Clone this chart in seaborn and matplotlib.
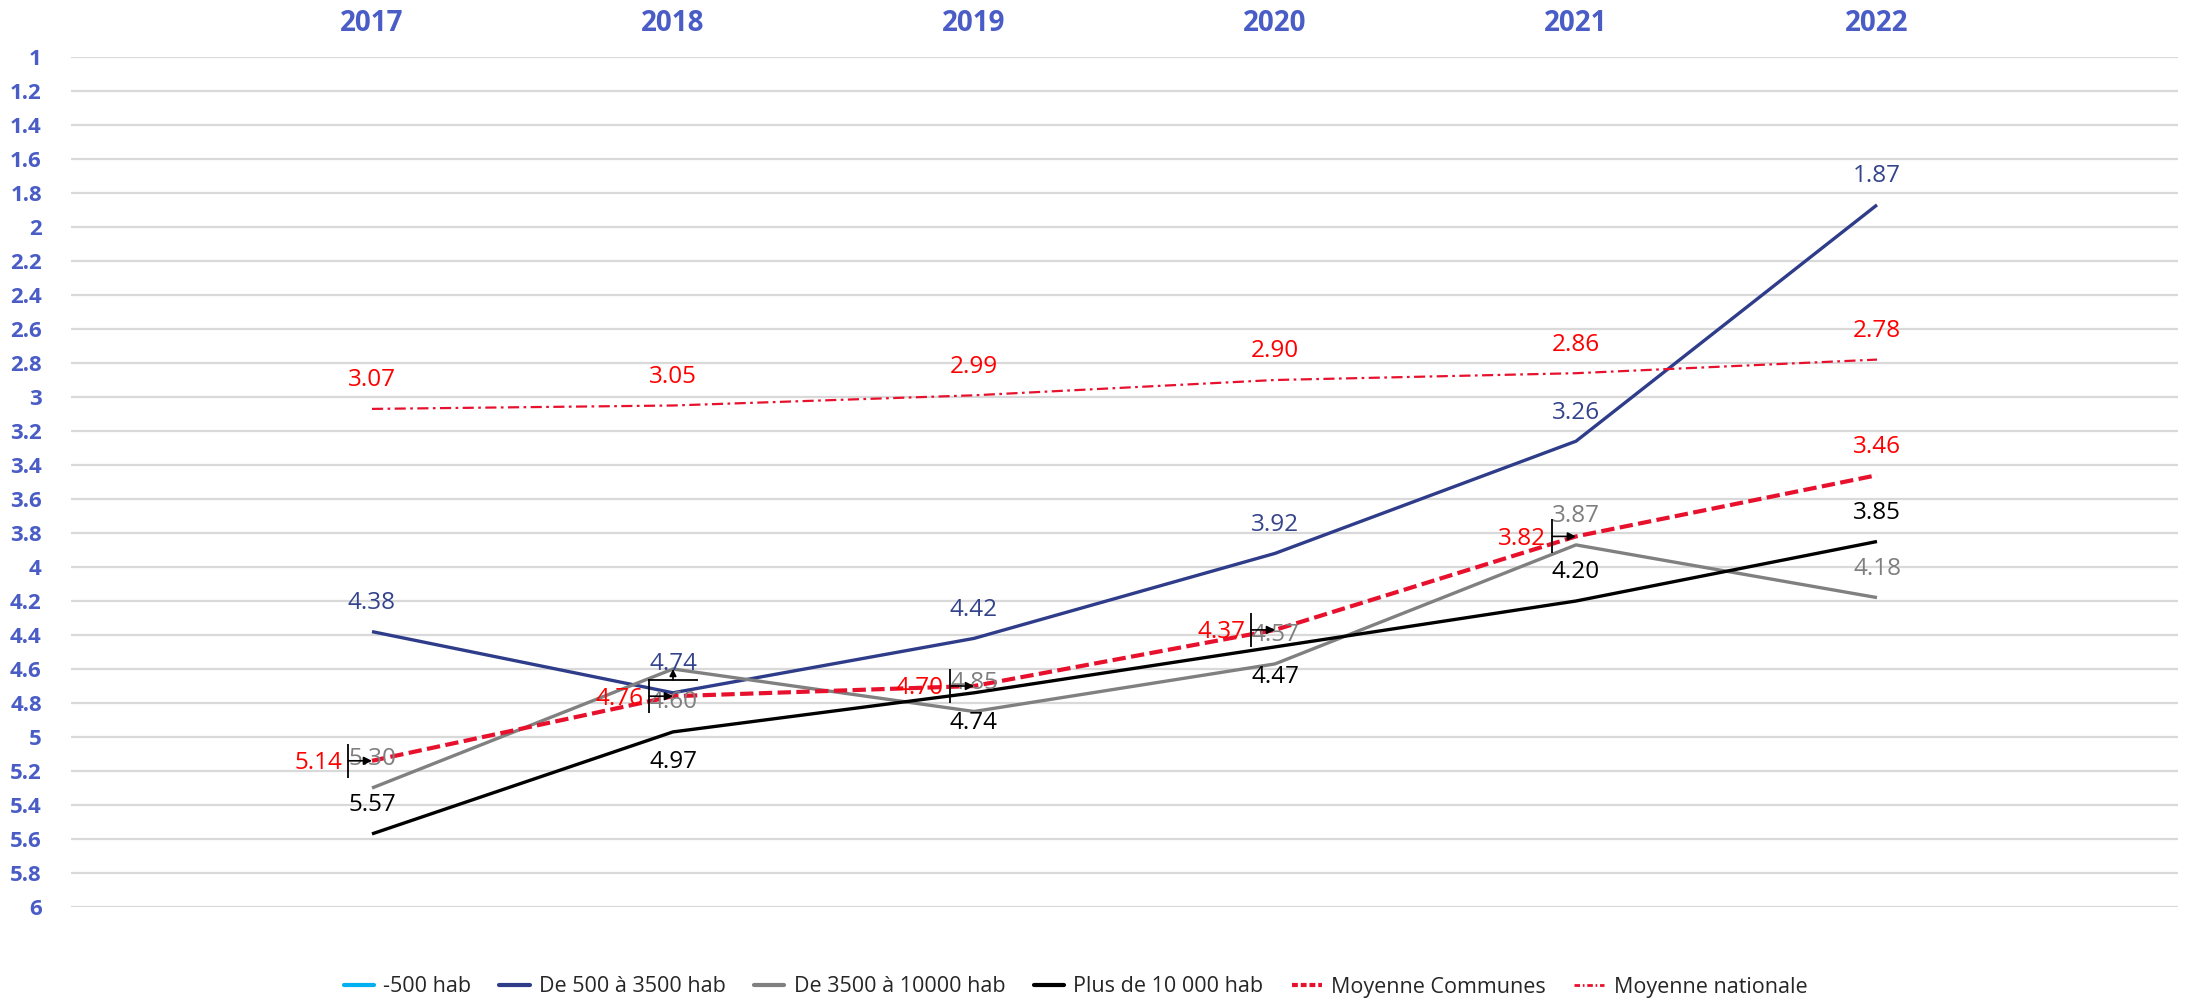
import numpy as np
import pandas as pd
import matplotlib
matplotlib.use("Agg")
import matplotlib.pyplot as plt
import matplotlib.transforms as mtransforms
from matplotlib.lines import Line2D
import seaborn as sns

# ---------------- data ----------------
years = [2017, 2018, 2019, 2020, 2021, 2022]
year_labels = ["2017", "2018", "2019", "2020", "2021", "2022"]
moins_500 = [np.nan, np.nan, np.nan, np.nan, np.nan, np.nan]
de_500_3500 = [4.38, 4.74, 4.42, 3.92, 3.26, 1.87]
de_3500_10000 = [5.30, 4.60, 4.85, 4.57, 3.87, 4.18]
plus_10000 = [5.57, 4.97, 4.74, 4.47, 4.20, 3.85]
moy_communes = [5.14, 4.76, 4.70, 4.37, 3.82, 3.46]
moy_nationale = [3.07, 3.05, 2.99, 2.90, 2.86, 2.78]
series_names = ["-500 hab", "De 500 à 3500 hab", "De 3500 à 10000 hab",
                "Plus de 10 000 hab", "Moyenne Communes", "Moyenne nationale"]
y_tick_values = [1, 1.2, 1.4, 1.6, 1.8, 2, 2.2, 2.4, 2.6, 2.8, 3, 3.2, 3.4, 3.6,
                 3.8, 4, 4.2, 4.4, 4.6, 4.8, 5, 5.2, 5.4, 5.6, 5.8, 6]
y_tick_labels = ["1", "1.2", "1.4", "1.6", "1.8", "2", "2.2", "2.4", "2.6", "2.8",
                 "3", "3.2", "3.4", "3.6", "3.8", "4", "4.2", "4.4", "4.6", "4.8",
                 "5", "5.2", "5.4", "5.6", "5.8", "6"]

values = [moins_500, de_500_3500, de_3500_10000, plus_10000, moy_communes, moy_nationale]

# ---------------- styles ----------------
line_colors = ["#00B0F0", "#2E3C8A", "#808080", "#000000", "#E8112D", "#E8112D"]
label_colors = ["#00B0F0", "#34448C", "#7F7F7F", "#000000", "#FF0000", "#FF0000"]
line_widths = [2.4, 2.4, 2.4, 2.4, 3.0, 1.6]
dash_styles = [None, None, None, None, (3.2, 1.3), (5, 2, 1.2, 2)]
placements = [
    [None] * 6,
    ["above"] * 6,
    ["above", "below_lead", "above", "above", "above", "above"],
    ["above", "below", "below", "below", "above", "above"],
    ["left", "left", "left", "left", "left", "above"],
    ["above"] * 6,
]
tick_color = "#4A5CC5"

sns.set_theme(style="white")
plt.rcParams["font.family"] = ["Open Sans", "DejaVu Sans"]

W, H, DPI = 2195, 1001, 100
fig = plt.figure(figsize=(W / DPI, H / DPI), dpi=DPI)
ax = fig.add_axes([71 / W, 1 - 907 / H, 2107 / W, 850 / H])

df = pd.DataFrame({"annee": years})
for name, vals in zip(series_names, values):
    df[name] = vals

for i, name in enumerate(series_names):
    if df[name].notna().sum() == 0:
        continue
    kw = dict(color=line_colors[i], linewidth=line_widths[i])
    line_ax = sns.lineplot(data=df, x="annee", y=name, ax=ax, legend=False, **kw)
    ln = line_ax.get_lines()[-1]
    ln.set_solid_capstyle("butt")
    if dash_styles[i] is not None:
        ln.set_dashes(dash_styles[i])
        ln.set_dash_capstyle("butt")

ax.set_xlim(2016, 2023)
ax.set_ylim(6, 1)
ax.set_yticks(y_tick_values)
ax.set_yticklabels(y_tick_labels)
ax.set_xticks(years)
ax.set_xticklabels(year_labels)
ax.set_xlabel("")
ax.set_ylabel("")
ax.xaxis.tick_top()
ax.tick_params(axis="x", length=0, pad=14, labelsize=20, labelcolor=tick_color)
ax.tick_params(axis="y", length=0, pad=21, labelsize=16, labelcolor=tick_color)
for t in ax.get_xticklabels() + ax.get_yticklabels():
    t.set_fontweight("bold")
ax.grid(False)
ax.yaxis.grid(True, color="#D9D9D9", linewidth=1.6)
ax.set_axisbelow(True)
for s in ax.spines.values():
    s.set_visible(False)

# ---------------- data labels ----------------
FS = 17.5
base_shift = 8.5  # pixels between digit centre and baseline


def off_tr(dx, dy):
    return mtransforms.offset_copy(ax.transData, fig=fig, x=dx, y=dy, units="dots")


for i, vals in enumerate(values):
    for j, (x, v) in enumerate(zip(years, vals)):
        where = placements[i][j]
        if where is None or np.isnan(v):
            continue
        txt = f"{v:.2f}"
        if where == "above":
            ax.annotate(txt, xy=(x, v), xytext=(0, 31 - base_shift), textcoords="offset pixels",
                        ha="center", va="baseline", fontsize=FS, color=label_colors[i])
        elif where in ("below", "below_lead"):
            dy = -28 if where == "below" else -31
            ax.annotate(txt, xy=(x, v), xytext=(0, dy - base_shift), textcoords="offset pixels",
                        ha="center", va="baseline", fontsize=FS, color=label_colors[i])
            if where == "below_lead":
                ax.plot([x], [v], marker="_", ms=51 / 1.389, mew=1.3, color="black",
                        transform=off_tr(0, -11), zorder=6)
                ax.annotate("", xy=(x, v), xytext=(0, -11), textcoords="offset pixels",
                            arrowprops=dict(arrowstyle="-|>", color="black", lw=1.2,
                                            shrinkA=0, shrinkB=0, mutation_scale=10), zorder=6)
        elif where == "left":
            ax.annotate(txt, xy=(x, v), xytext=(-30, -base_shift), textcoords="offset pixels",
                        ha="right", va="baseline", fontsize=FS, color=label_colors[i])
            ax.plot([x], [v], marker="|", ms=34 / 1.389, mew=1.3, color="black",
                    transform=off_tr(-24, 0), zorder=6)
            ax.annotate("", xy=(x, v), xytext=(-24, 0), textcoords="offset pixels",
                        arrowprops=dict(arrowstyle="-|>", color="black", lw=1.2,
                                        shrinkA=0, shrinkB=0, mutation_scale=12), zorder=6)

# ---------------- legend ----------------
handles = []
for i, name in enumerate(series_names):
    h = Line2D([], [], color=line_colors[i], linewidth=3.0 if i < 5 else 2.0)
    if dash_styles[i] is not None:
        h.set_dashes((1.4, 0.7) if i == 4 else (2, 1, 0.6, 1))
    handles.append(h)
fig.legend(handles, series_names, loc="center", bbox_to_anchor=(0.49, 1 - 987 / H),
           bbox_transform=fig.transFigure, ncol=6, frameon=False, fontsize=15.5,
           handlelength=1.4, handletextpad=0.45, columnspacing=1.3)

fig.savefig("out.png", dpi=DPI)
